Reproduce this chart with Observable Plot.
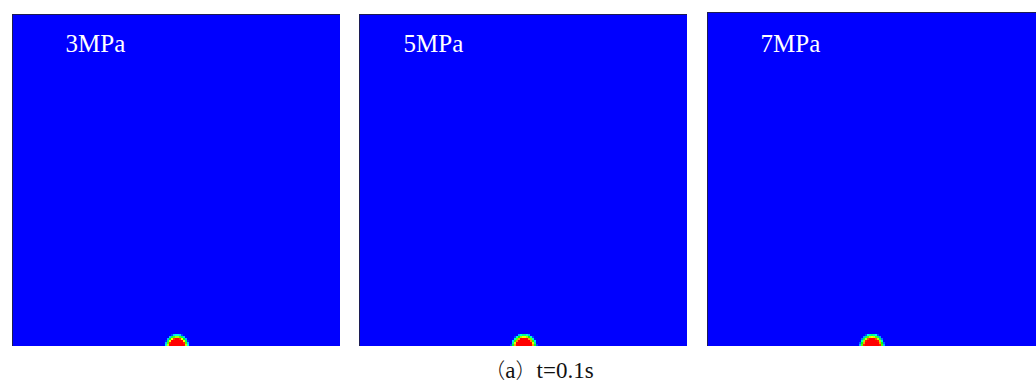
<!DOCTYPE html>
<html>
<head>
<meta charset="utf-8">
<script src="https://cdn.jsdelivr.net/npm/d3@7"></script>
<script src="https://cdn.jsdelivr.net/npm/@observablehq/plot@0.6"></script>
<style>
  html, body { margin: 0; padding: 0; background: #fff; width: 1036px; height: 392px; overflow: hidden; }
  #wrap { position: relative; width: 1036px; height: 392px; }
  .panel { position: absolute; }
  .panel svg { display: block; }
  #caption { position: absolute; top: 354px; left: 539px; transform: translateX(-50%);
    font-size: 23px; color: #111; white-space: nowrap; line-height: 30px; }
  #caption .cjk { font-family: "Noto Sans CJK SC", sans-serif; font-weight: 300; font-size: 21px; }
  #caption .lat { font-family: "Liberation Serif", serif; }
</style>
</head>
<body>
<div id="wrap"><div id="caption"></div></div>
<script>
// ---- data ----
const pressures = ["3MPa", "5MPa", "7MPa"];
const blobCenter = [0.5, 0.5, 0.5];     // fraction of panel width
const blobRx = [12.5, 13.5, 13];        // outer radius, horizontal
const blobRy = [13.5, 14, 14];          // outer radius, vertical
const captionParts = [["（", "cjk"], ["a", "lat"], ["）", "cjk"], ["t=0.1s", "lat"]];
const jetStops = [0, 0.25, 0.5, 0.75, 1];
const jetColors = ["#0000ff", "#00ffff", "#00ff00", "#ffff00", "#ff0000"];

// ---- layout ----
const layout = [
  {left: 12, top: 14, w: 328, h: 332, lx: 53, ly: 20},
  {left: 359, top: 14, w: 328, h: 332, lx: 44, ly: 20},
  {left: 707, top: 12, w: 329, h: 334, lx: 53, ly: 22}
];

const wrap = document.getElementById("wrap");
const cap = document.getElementById("caption");
captionParts.forEach(([t, c]) => {
  const s = document.createElement("span");
  s.className = c; s.textContent = t; cap.appendChild(s);
});

pressures.forEach((label, i) => {
  const L = layout[i];
  const cx = blobCenter[i] * L.w;
  const rx = blobRx[i], ry = blobRy[i];
  const field = (x, y) => {
    const d = Math.sqrt(((x - cx) / rx) ** 2 + ((y + 1) / ry) ** 2);
    const v = (1 - d) / 0.38;
    return Math.max(0, Math.min(1, v));
  };
  const chart = Plot.plot({
    width: L.w,
    height: L.h,
    margin: 0,
    x: {domain: [0, L.w], axis: null},
    y: {domain: [0, L.h], axis: null},
    color: {type: "linear", domain: jetStops, range: jetColors, interpolate: "rgb"},
    style: {background: "transparent"},
    marks: [
      Plot.frame({fill: "#0000ff"}),
      Plot.raster({fill: field, x1: 0, x2: L.w, y1: 0, y2: L.h, pixelSize: 2, imageRendering: "pixelated"}),
      Plot.frame({stroke: "#1c1c55", strokeWidth: 1}),
      Plot.text([label], {
        text: d => d, frameAnchor: "top-left", dx: L.lx, dy: L.ly,
        fill: "white", fontSize: 25, fontFamily: "Liberation Serif, serif", textAnchor: "start"
      })
    ]
  });
  const div = document.createElement("div");
  div.className = "panel";
  div.style.left = L.left + "px";
  div.style.top = L.top + "px";
  div.appendChild(chart);
  wrap.appendChild(div);
});
</script>
</body>
</html>
